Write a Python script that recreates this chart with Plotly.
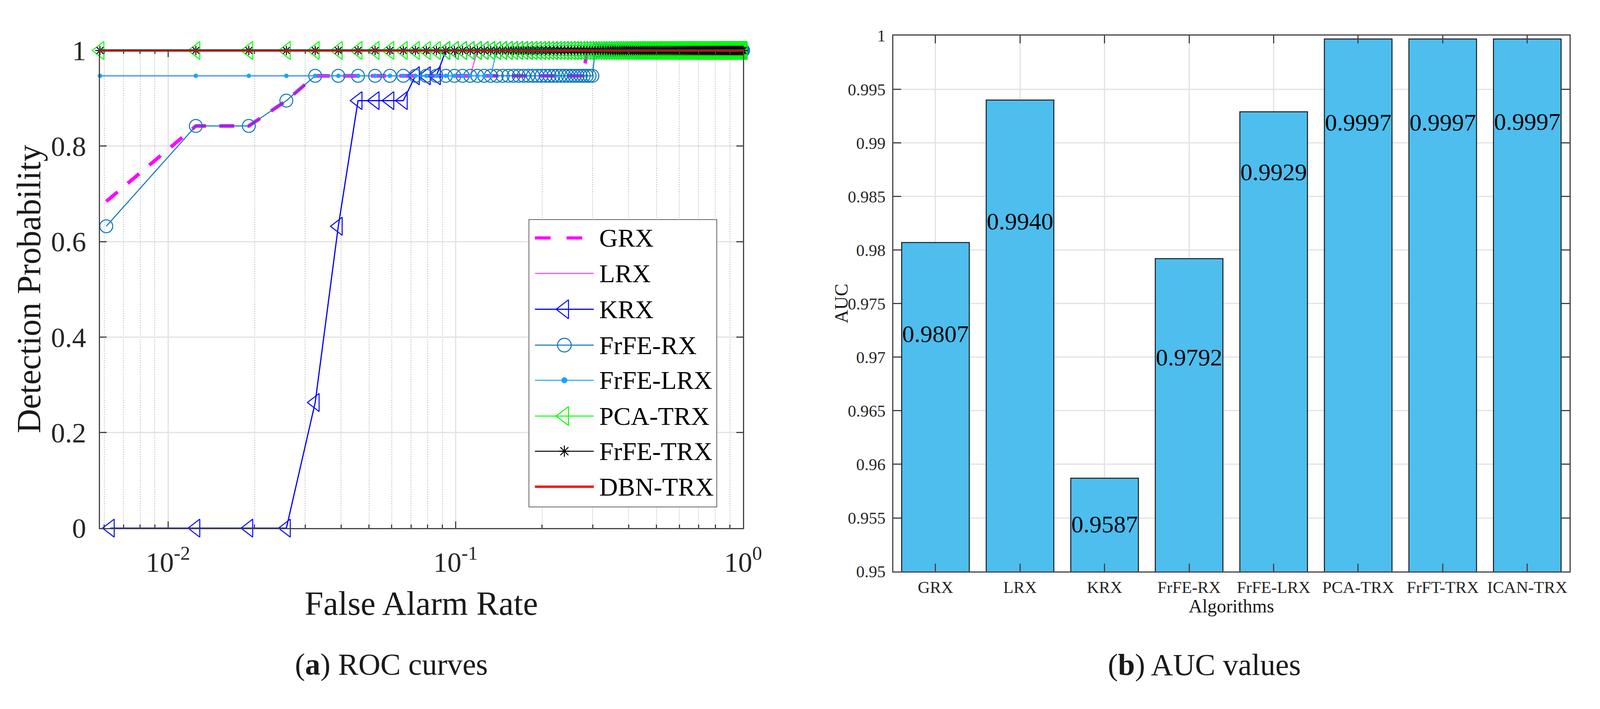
import plotly.graph_objects as go

# ---- ROC data (false alarm rate grid shared by all detectors) ----
FAR = [
    0.0058, 0.0125, 0.0191, 0.0258, 0.0325, 0.0391, 0.0458, 0.0525, 0.0591, 0.0658, 0.0725, 0.0791, 0.0858, 0.0925, 0.0991,
    0.1058, 0.1125, 0.1191, 0.1258, 0.1325, 0.1391, 0.1458, 0.1525, 0.1591, 0.1658, 0.1725, 0.1791, 0.1858, 0.1925, 0.1991,
    0.2058, 0.2125, 0.2191, 0.2258, 0.2325, 0.2391, 0.2458, 0.2525, 0.2591, 0.2658, 0.2725, 0.2791, 0.2858, 0.2925, 0.2991,
    0.3058, 0.3125, 0.3191, 0.3258, 0.3325, 0.3391, 0.3458, 0.3525, 0.3591, 0.3658, 0.3725, 0.3791, 0.3858, 0.3925, 0.3991,
    0.4058, 0.4125, 0.4191, 0.4258, 0.4325, 0.4391, 0.4458, 0.4525, 0.4591, 0.4658, 0.4725, 0.4791, 0.4858, 0.4925, 0.4991,
    0.5058, 0.5125, 0.5191, 0.5258, 0.5325, 0.5391, 0.5458, 0.5525, 0.5591, 0.5658, 0.5725, 0.5791, 0.5858, 0.5925, 0.5991,
    0.6058, 0.6125, 0.6191, 0.6258, 0.6325, 0.6391, 0.6458, 0.6525, 0.6591, 0.6658, 0.6725, 0.6791, 0.6858, 0.6925, 0.6991,
    0.7058, 0.7125, 0.7191, 0.7258, 0.7325, 0.7391, 0.7458, 0.7525, 0.7591, 0.7658, 0.7725, 0.7791, 0.7858, 0.7925, 0.7991,
    0.8058, 0.8125, 0.8191, 0.8258, 0.8325, 0.8391, 0.8458, 0.8525, 0.8591, 0.8658, 0.8725, 0.8791, 0.8858, 0.8925, 0.8991,
    0.9058, 0.9125, 0.9191, 0.9258, 0.9325, 0.9391, 0.9458, 0.9525, 0.9591, 0.9658, 0.9725, 0.9791, 0.9858, 0.9925, 1.0,
]

# first threshold of the RX-type curves sits a little right of the others
GRX_X0 = 0.0061
KRX_X0 = 0.0063

# detection probabilities (runs of equal values)
PD_GRX = [0.684, 0.842, 0.842, 0.895] + [0.947] * 38 + [1.0] * 108
PD_LRX = [0.947] * 17 + [1.0] * 133
PD_KRX = [0.0, 0.0, 0.0, 0.0, 0.263, 0.632, 0.895, 0.895, 0.895, 0.895,
          0.947, 0.947, 0.947] + [1.0] * 137
PD_FRFE_RX = [0.632, 0.842, 0.842, 0.895] + [0.947] * 41 + [1.0] * 105
PD_FRFE_LRX = [0.947] * 20 + [1.0] * 130
PD_PCA_TRX = [1.0] * 150
PD_FRFE_TRX = [1.0] * 150
PD_DBN_TRX = [1.0] * 150

# ---- AUC data ----
ALGORITHMS = ["GRX", "LRX", "KRX", "FrFE-RX", "FrFE-LRX", "PCA-TRX", "FrFT-TRX", "ICAN-TRX"]
AUC = [0.9807, 0.9940, 0.9587, 0.9792, 0.9929, 0.9997, 0.9997, 0.9997]
LABEL_Y = [0.9720, 0.9825, 0.9542, 0.9698, 0.9871, 0.9917, 0.9917, 0.9918]

FONT = "Liberation Serif"
W, H = 4244, 1814
PW, PH = W - 16, H - 16   # page body keeps an 8px margin
AX_COLOR = "#444444"
GRID = "#e2e2e2"


def fx(px):
    return (px - 8) / PW


def fy(py):
    return 1 - (py - 8) / PH


# name, x, y, color, width, dash, symbol, size
series = [
    ("GRX", [GRX_X0] + FAR[1:], PD_GRX, "#FF00FF", 9, "38px,34px", None, 0),
    ("LRX", FAR, PD_LRX, "#FF55FF", 3, "solid", None, 0),
    ("KRX", [KRX_X0] + FAR[1:], PD_KRX, "#0000FF", 3, "solid", "triangle-left-open", 40),
    ("FrFE-RX", [GRX_X0] + FAR[1:], PD_FRFE_RX, "#0072BD", 2.5, "solid", "circle-open", 33),
    ("FrFE-LRX", FAR, PD_FRFE_LRX, "#1AA3FF", 2.5, "solid", "circle", 9),
    ("PCA-TRX", FAR, PD_PCA_TRX, "#00FF00", 2.5, "solid", "triangle-left-open", 40),
    ("FrFE-TRX", FAR, PD_FRFE_TRX, "#000000", 2.5, "solid", "asterisk-open", 20),
    ("DBN-TRX", FAR, PD_DBN_TRX, "#FF0000", 6, "solid", None, 0),
]

fig = go.Figure()

for name, x, y, color, width, dash, symbol, size in series:
    fig.add_trace(go.Scatter(
        x=x, y=y, name=name, mode="lines+markers" if symbol else "lines",
        cliponaxis=False, hoverinfo="skip",
        line=dict(color=color, width=width, dash=dash),
        marker=dict(symbol=symbol or "circle", size=size, color=color,
                    line=dict(color=color, width=2.5)),
        xaxis="x", yaxis="y",
    ))

fig.add_trace(go.Bar(
    x=ALGORITHMS, y=AUC, width=0.8,
    marker=dict(color="#4DBEEE", line=dict(color="#1a1a1a", width=2.5)),
    xaxis="x2", yaxis="y2",
))
fig.add_trace(go.Scatter(
    x=ALGORITHMS, y=LABEL_Y, mode="text",
    text=[f"{v:.4f}" for v in AUC],
    textfont=dict(family=FONT, size=62, color="black"),
    xaxis="x2", yaxis="y2",
))

# ---- legend drawn in its own small axes (pixel units of the page) ----
LEG_L, LEG_R, LEG_T, LEG_B = 1419, 1925, 546, 1317
ROW_Y = [596, 691, 787, 883, 977, 1073, 1167, 1262]
SAMPLE_X = [1436, 1594]
fig.add_trace(go.Scatter(
    x=[LEG_L, LEG_R, LEG_R, LEG_L, LEG_L], y=[LEG_T, LEG_T, LEG_B, LEG_B, LEG_T],
    mode="lines", fill="toself", fillcolor="white", cliponaxis=False,
    line=dict(color="#333333", width=3), hoverinfo="skip",
    xaxis="x3", yaxis="y3",
))
for (name, _, _, color, width, dash, symbol, size), ry in zip(series, ROW_Y):
    fig.add_trace(go.Scatter(
        x=SAMPLE_X, y=[ry, ry], mode="lines", hoverinfo="skip",
        line=dict(color=color, width=min(width, 8), dash="40px,41px" if dash != "solid" else "solid"),
        xaxis="x3", yaxis="y3",
    ))
    if symbol:
        fig.add_trace(go.Scatter(
            x=[sum(SAMPLE_X) / 2], y=[ry], mode="markers", hoverinfo="skip",
            marker=dict(symbol=symbol, size=size + 2 if size > 20 else size + 4, color=color,
                        line=dict(color=color, width=2.5)),
            xaxis="x3", yaxis="y3",
        ))
    fig.add_annotation(
        text=name, x=1607, y=ry, xref="x3", yref="y3", xanchor="left", yanchor="middle",
        showarrow=False, font=dict(family=FONT, size=66, color="black"),
    )

minor_vals = [0.006, 0.007, 0.008, 0.009] + [k / 100 for k in range(2, 10)] + [k / 10 for k in range(2, 10)]

axis_common = dict(
    showline=True, linecolor=AX_COLOR, linewidth=3, mirror="ticks",
    ticks="inside", tickcolor=AX_COLOR, tickwidth=3,
    gridcolor=GRID, gridwidth=3, zeroline=False,
)
hidden = dict(visible=False, showgrid=False, zeroline=False, fixedrange=True)

fig.update_layout(
    autosize=True, showlegend=False,
    margin=dict(l=0, r=0, t=0, b=0),
    paper_bgcolor="white", plot_bgcolor="rgba(0,0,0,0)",
    font=dict(family=FONT, color="#262626"),
    xaxis=dict(
        axis_common, type="log", domain=[fx(268), fx(1995)],
        range=[-2.2366, 0], anchor="y",
        tickvals=[0.01, 0.1, 1],
        ticktext=["10<sup>-2</sup>", "10<sup>-1</sup>", "10<sup>0</sup>"],
        ticklen=17, tickfont=dict(size=72), ticklabelstandoff=22,
        minor=dict(tickvals=minor_vals, ticks="inside", ticklen=9, tickcolor=AX_COLOR,
                   showgrid=True, gridcolor="#c4c4c4", gridwidth=2, griddash="dot"),
    ),
    yaxis=dict(
        axis_common, domain=[fy(1373), fy(94)], range=[0, 1], anchor="x",
        tickvals=[0, 0.2, 0.4, 0.6, 0.8, 1], ticktext=["0", "0.2", "0.4", "0.6", "0.8", "1"],
        ticklen=17, tickfont=dict(size=72), ticklabelstandoff=18,
    ),
    xaxis2=dict(
        axis_common, domain=[fx(2398), fx(4214)], range=[-0.5, 7.5], anchor="y2",
        ticklen=20, tickfont=dict(size=43), ticklabelstandoff=0, showgrid=True,
    ),
    yaxis2=dict(
        axis_common, domain=[fy(1489), fy(54.5)], range=[0.95, 1], anchor="x2",
        tickvals=[0.95, 0.955, 0.96, 0.965, 0.97, 0.975, 0.98, 0.985, 0.99, 0.995, 1],
        ticktext=["0.95", "0.955", "0.96", "0.965", "0.97", "0.975", "0.98", "0.985", "0.99", "0.995", "1"],
        ticklen=20, tickfont=dict(size=43), ticklabelstandoff=8,
    ),
    xaxis3=dict(hidden, domain=[fx(LEG_L), fx(LEG_R)], range=[LEG_L, LEG_R], anchor="y3"),
    yaxis3=dict(hidden, domain=[fy(LEG_B), fy(LEG_T)], range=[LEG_B, LEG_T], anchor="x3"),
)

annos = [
    dict(text="Detection Probability", x=77, y=733, textangle=-90, size=86),
    dict(text="False Alarm Rate", x=1131, y=1575, size=86),
    dict(text="AUC", x=2258, y=772, textangle=-90, size=48),
    dict(text="Algorithms", x=3306, y=1582, size=48),
    dict(text="(<b>a</b>) ROC curves", x=1051, y=1737, size=78),
    dict(text="(<b>b</b>) AUC values", x=3233, y=1739, size=78),
]
for a in annos:
    fig.add_annotation(
        text=a["text"], x=fx(a["x"]), y=fy(a["y"]), xref="paper", yref="paper",
        xanchor="center", yanchor="middle", showarrow=False,
        textangle=a.get("textangle", 0),
        font=dict(family=FONT, size=a["size"], color="#1a1a1a"),
    )

# size the figure to the window (minus the 8px body margin on each side)
fig.write_html("out.html", default_width="calc(100vw - 16px)", default_height="calc(100vh - 16px)")
